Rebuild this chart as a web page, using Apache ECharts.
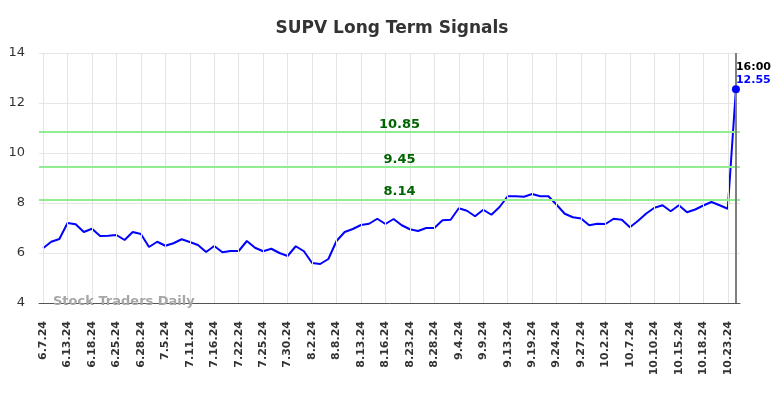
<!DOCTYPE html>
<html>
<head>
<meta charset="utf-8">
<script src="https://cdn.jsdelivr.net/npm/echarts@6/dist/echarts.min.js"></script>
<style>html,body{margin:0;padding:0;background:#fff;}#c{width:784px;height:398px;}</style>
</head>
<body>
<div id="c"></div>
<script>
const titleText = 'SUPV Long Term Signals';
const watermark = 'Stock Traders Daily';
const categories = [
'6.7.24','6.10.24','6.11.24','6.13.24','6.14.24','6.17.24','6.18.24','6.20.24','6.21.24','6.25.24',
'6.26.24','6.27.24','6.28.24','7.1.24','7.2.24','7.5.24','7.8.24','7.9.24','7.11.24','7.12.24',
'7.15.24','7.16.24','7.17.24','7.19.24','7.22.24','7.23.24','7.24.24','7.25.24','7.26.24','7.29.24',
'7.30.24','7.31.24','8.1.24','8.2.24','8.6.24','8.7.24','8.8.24','8.9.24','8.12.24','8.13.24',
'8.14.24','8.15.24','8.16.24','8.20.24','8.21.24','8.23.24','8.26.24','8.27.24','8.28.24','8.29.24',
'8.30.24','9.4.24','9.5.24','9.6.24','9.9.24','9.10.24','9.12.24','9.13.24','9.16.24','9.18.24',
'9.19.24','9.20.24','9.23.24','9.24.24','9.25.24','9.26.24','9.27.24','9.30.24','10.1.24','10.2.24',
'10.3.24','10.4.24','10.7.24','10.8.24','10.9.24','10.10.24','10.11.24','10.14.24','10.15.24','10.16.24',
'10.17.24','10.18.24','10.21.24','10.22.24','10.23.24','10.24.24'
];
const values = [
6.19,6.45,6.56,7.20,7.15,6.84,6.97,6.68,6.69,6.72,
6.52,6.84,6.76,6.24,6.45,6.29,6.39,6.55,6.44,6.32,
6.04,6.28,6.03,6.08,6.08,6.48,6.21,6.07,6.17,6.00,
5.88,6.27,6.07,5.60,5.56,5.76,6.48,6.84,6.96,7.12,
7.17,7.37,7.16,7.36,7.11,6.95,6.88,7.00,7.00,7.31,
7.33,7.79,7.69,7.47,7.73,7.53,7.84,8.27,8.27,8.25,
8.36,8.27,8.27,7.93,7.57,7.43,7.38,7.11,7.17,7.16,
7.37,7.33,7.03,7.29,7.58,7.81,7.91,7.67,7.91,7.63,
7.74,7.90,8.04,7.91,7.77,12.55
];
const signalLevels = [10.85, 9.45, 8.14];
const lastTimeLabel = '16:00';
const yMin = 4, yMax = 14, yStep = 2;
const labelEvery = 3;

const FONT = 'DejaVu Sans';
const lastIdx = values.length - 1;

const gridLines = categories
  .filter((c, i) => i % labelEvery === 0)
  .map(c => ({ xAxis: c }));

const signalLines = signalLevels.map(v => ({
  yAxis: v,
  lineStyle: { color: '#90ee90', width: 2, type: 'solid' },
  label: {
    show: true, formatter: String(v.toFixed(2)),
    position: 'insideMiddleTop', distance: 1,
    padding: [0, 0, 0, 20],
    color: '#006400', fontWeight: 'bold', fontSize: 13, fontFamily: FONT
  }
}));

const chart = echarts.init(document.getElementById('c'), null, { renderer: 'canvas' });
chart.setOption({
  animation: false,
  backgroundColor: '#ffffff',
  title: {
    text: titleText, left: 'center', top: 15,
    textStyle: { fontFamily: FONT, fontSize: 17, fontWeight: 'bold', color: '#333333' }
  },
  grid: { left: 39, right: 44, top: 53, bottom: 95, containLabel: false },
  xAxis: {
    type: 'category', data: categories, boundaryGap: true,
    axisLine: { show: true, lineStyle: { color: '#555555', width: 1 } },
    axisTick: { show: false },
    splitLine: { show: false },
    axisLabel: {
      interval: labelEvery - 1, rotate: 90, margin: 18,
      fontFamily: FONT, fontSize: 11, fontWeight: 'bold', color: '#333333'
    }
  },
  yAxis: {
    type: 'value', min: yMin, max: yMax, interval: yStep,
    axisLine: { show: false }, axisTick: { show: false },
    splitLine: { show: true, lineStyle: { color: '#e6e6e6', width: 1 } },
    axisLabel: { fontFamily: FONT, fontSize: 13, color: '#333333', margin: 14 }
  },
  graphic: [{
    type: 'text', left: 53, top: 295, z: 10,
    style: { text: watermark, fill: '#a6a6a6', font: 'bold 13px "DejaVu Sans"' }
  }],
  series: [
    {
      type: 'line', data: categories.map(() => null), z: 1, silent: true,
      showSymbol: false, lineStyle: { opacity: 0 },
      markLine: {
        silent: true, symbol: 'none', animation: false,
        lineStyle: { color: '#e3e3e3', width: 1, type: 'solid' },
        label: { show: false },
        data: gridLines
      }
    },
    {
      type: 'line', data: values, z: 3,
      showSymbol: false, symbol: 'none',
      lineStyle: { color: '#0000ff', width: 2 },
      markLine: {
        silent: true, symbol: 'none', animation: false,
        data: signalLines.concat([{
          xAxis: categories[lastIdx],
          lineStyle: { color: '#808080', width: 2, type: 'solid' },
          label: { show: false }
        }])
      },
      markPoint: {
        silent: true, animation: false,
        symbol: 'circle', symbolSize: 8,
        itemStyle: { color: '#0000ff' },
        data: [{
          coord: [categories[lastIdx], values[lastIdx]],
          label: {
            show: true, position: [4, -25],
            align: 'left', verticalAlign: 'top',
            formatter: '{a|' + lastTimeLabel + '}\n{b|' + values[lastIdx].toFixed(2) + '}',
            rich: {
              a: { color: '#000000', fontWeight: 'bold', fontSize: 11, fontFamily: FONT, lineHeight: 13 },
              b: { color: '#0000ff', fontWeight: 'bold', fontSize: 11, fontFamily: FONT, lineHeight: 13 }
            }
          }
        }]
      }
    }
  ]
});
</script>
</body>
</html>
